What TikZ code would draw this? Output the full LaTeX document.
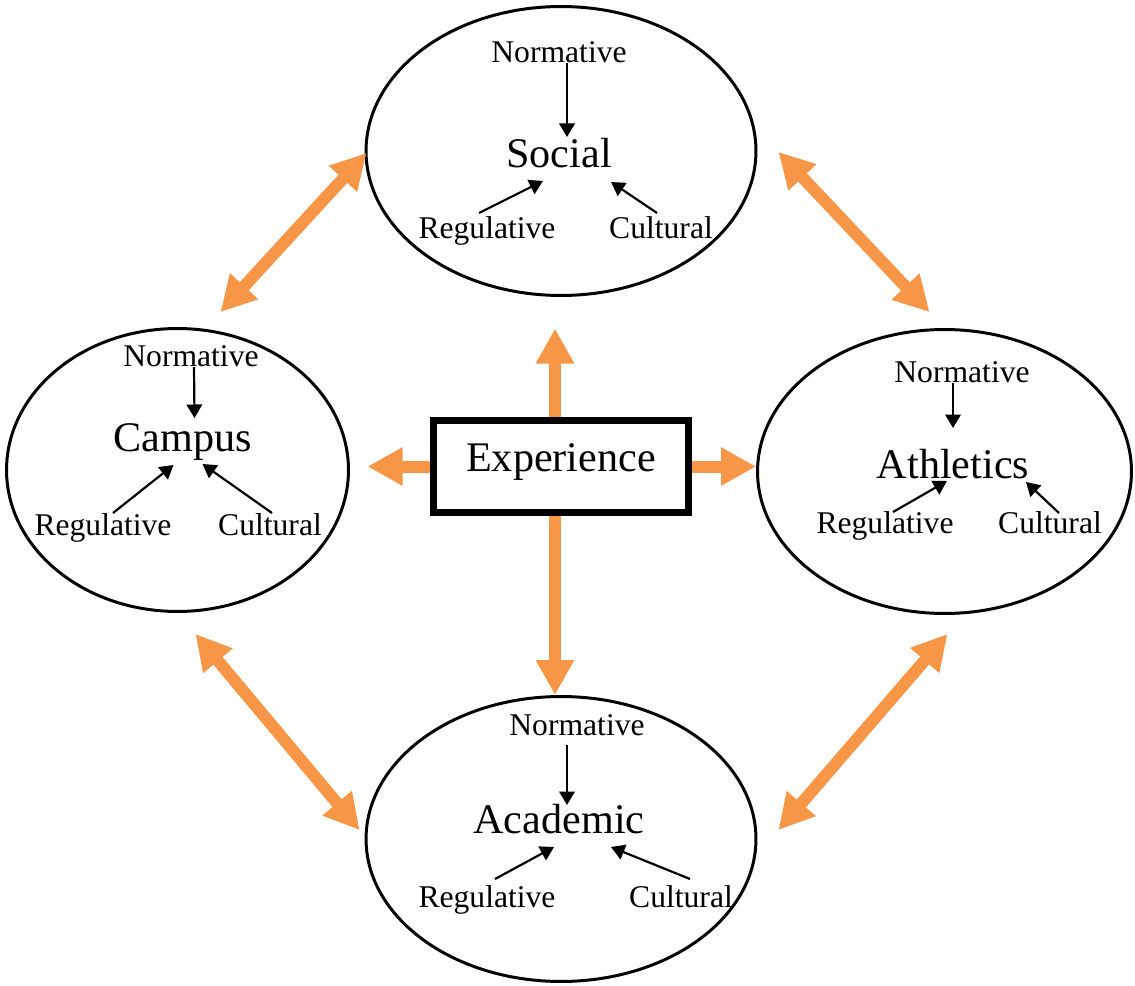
\documentclass[tikz,border=0pt]{standalone}
\usepackage{fontspec}
\setmainfont{Liberation Serif}
\usetikzlibrary{shapes.geometric,arrows.meta}
\definecolor{orng}{HTML}{F79646}
\begin{document}
\begin{tikzpicture}[x=0.02cm, y=-0.02cm,
    ring/.style={ellipse, draw, line width=1.7pt, inner sep=0pt},
    lbl/.style={inner sep=0pt, anchor=base, font=\fontsize{18}{20}\selectfont},
    ttl/.style={inner sep=0pt, anchor=base, font=\fontsize{24}{28}\selectfont},
    pil/.style={line width=1.25pt, -{Triangle[width=0.31cm, length=0.27cm]}},
    big/.style={draw=orng, line width=0.24cm, -{Triangle[width=0.72cm, length=0.7cm]}},
    bigs/.style={big, {Triangle[width=0.72cm, length=0.7cm]}-{Triangle[width=0.72cm, length=0.7cm]}}]
          \useasboundingbox (0,0) rectangle (1135,986);

          \node[ring, minimum width=7.8cm, minimum height=5.78cm] (S) at (561,151) {};
          \node[ring, minimum width=6.84cm, minimum height=5.66cm] (C) at (177.5,470) {};
          \node[ring, minimum width=7.48cm, minimum height=5.68cm] (A) at (944.5,471.5) {};
          \node[ring, minimum width=7.8cm, minimum height=5.7cm] (M) at (561,839) {};

          \node[draw, line width=0.14cm, minimum width=5.12cm, minimum height=1.86cm, text height=15pt, text depth=8.8pt, font=\fontsize{24}{28}\selectfont] (e) at (561,466.5) {Experience};

          \node[lbl] (sn) at (559,63) {Normative};
          \node[ttl] (s) at (559,168) {Social};
          \node[lbl] (sr) at (487,239) {Regulative};
          \node[lbl] (sc) at (661,239) {Cultural};

          \node[lbl] (cn) at (191,366) {Normative};
          \node[ttl] (c) at (182.5,451) {Campus};
          \node[lbl] (cr) at (103,535) {Regulative};
          \node[lbl] (cc) at (270,535) {Cultural};

          \node[lbl] (an) at (962,382) {Normative};
          \node[ttl] (a) at (953,478) {Athletics};
          \node[lbl] (ar) at (885,533) {Regulative};
          \node[lbl] (ac) at (1050,533) {Cultural};

          \node[lbl] (mn) at (577,735) {Normative};
          \node[ttl] (m) at (559,833) {Academic};
          \node[lbl] (mr) at (487,907) {Regulative};
          \node[lbl] (mc) at (681,907) {Cultural};

          \draw[pil] ([shift={(8,0)}]sn.base) -- ([shift={(8,-31)}]s.base);
          \draw[pil] ([shift={(-8,-26)}]sr.base) -- ([shift={(-16,13)}]s.base);
          \draw[pil] ([shift={(-4,-26)}]sc.base) -- ([shift={(52,14)}]s.base);

          \draw[pil] ([shift={(3,1)}]cn.base) -- ([shift={(12,-33)}]c.base);
          \draw[pil] ([shift={(10,-22)}]cr.base) -- ([shift={(-9,14)}]c.base);
          \draw[pil] ([shift={(2,-22)}]cc.base) -- ([shift={(20,13)}]c.base);

          \draw[pil] ([shift={(-9,1)}]an.base) -- ([shift={(0,-50)}]a.base);
          \draw[pil] ([shift={(8,-21)}]ar.base) -- ([shift={(-6,3)}]a.base);
          \draw[pil] ([shift={(9,-20)}]ac.base) -- ([shift={(73,4)}]a.base);

          \draw[pil] ([shift={(-10,10)}]mn.base) -- ([shift={(8,-28)}]m.base);
          \draw[pil] ([shift={(8,-28)}]mr.base) -- ([shift={(-5,14)}]m.base);
          \draw[pil] ([shift={(9,-28)}]mc.base) -- ([shift={(52,14)}]m.base);

          \draw[big] ([shift={(-6,0)}]e.north) -- ++(0,-88);
          \draw[big] ([shift={(-6,0)}]e.south) -- ([shift={(-6,0)}]M.north);
          \draw[big] (e.west) -- ++(-62,0);
          \draw[big] (e.east) -- (e.east -| A.west);

          \draw[bigs] ([shift={(2,2)}]S.west) -- ([shift={(43,-15)}]C.north);
          \draw[bigs] ([shift={(21,1)}]S.east) -- ([shift={(-15,-16)}]A.north);
          \draw[bigs] ([shift={(18,21)}]C.south) -- ([shift={(-5,-9)}]M.west);
          \draw[bigs] ([shift={(3,19)}]A.south) -- ([shift={(21,-9)}]M.east);
        \end{tikzpicture}
\end{document}
